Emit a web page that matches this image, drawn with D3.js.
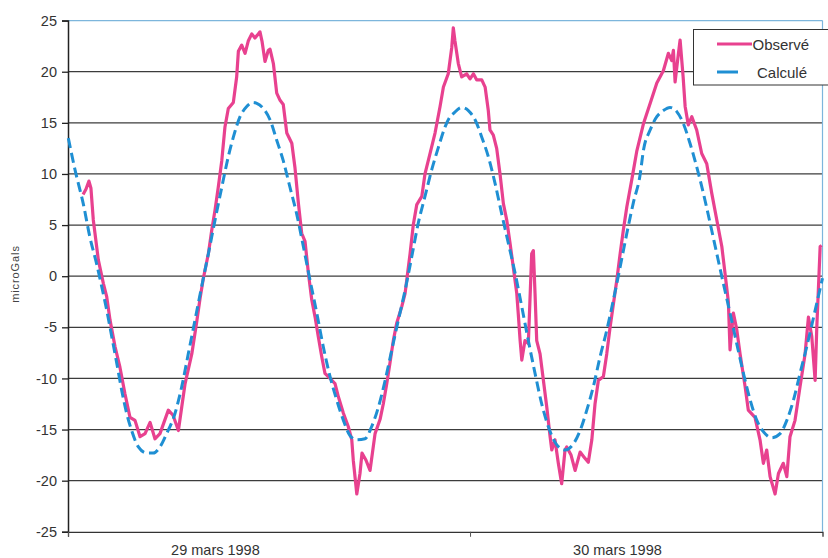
<!DOCTYPE html>
<html><head><meta charset="utf-8">
<script src="https://cdn.jsdelivr.net/npm/d3@7"></script>
<style>
body{margin:0;background:#fff}
svg{display:block}
text{font-family:"Liberation Sans",Arial,sans-serif}
</style>
</head><body><div id="chart"></div>
<script>
// ---- data (hours since 29 mars 1998 00:00, microGals) ----
const obsHours = [0.90,1.07,1.25,1.37,1.51,1.81,2.11,2.31,2.51,2.81,3.10,3.40,3.70,4.00,4.30,4.60,4.90,5.19,5.49,5.99,6.27,6.59,6.79,6.99,7.39,7.68,7.88,8.08,8.38,8.58,8.78,8.97,9.18,9.37,9.57,9.87,10.07,10.17,10.37,10.57,10.76,10.97,11.16,11.36,11.46,11.58,11.76,11.96,12.06,12.26,12.46,12.66,12.85,13.06,13.36,13.55,13.75,13.95,14.15,14.35,14.55,14.75,14.94,15.15,15.34,15.64,15.94,16.14,16.44,16.73,16.94,17.03,17.24,17.43,17.55,17.79,18.03,18.33,18.63,18.82,19.03,19.22,19.42,19.62,19.92,20.12,20.22,20.42,20.61,20.82,21.12,21.31,21.61,21.91,22.21,22.41,22.70,22.91,23.00,23.10,23.30,23.50,23.80,24.00,24.20,24.40,24.70,24.90,25.09,25.19,25.39,25.59,25.79,25.99,26.19,26.39,26.58,26.79,26.88,26.99,27.09,27.28,27.48,27.68,27.78,27.88,27.98,28.18,28.38,28.58,28.78,28.88,29.07,29.27,29.47,29.67,29.77,30.03,30.27,30.57,30.81,31.06,31.27,31.46,31.66,31.96,32.16,32.36,32.56,32.76,32.96,33.15,33.36,33.65,33.95,34.35,34.75,35.15,35.54,35.84,36.04,36.14,36.24,36.44,36.54,36.72,36.84,37.03,37.24,37.53,37.83,38.13,38.43,38.73,39.03,39.22,39.42,39.52,39.72,39.92,40.12,40.42,40.61,41.01,41.31,41.51,41.71,41.91,42.21,42.41,42.70,42.91,43.10,43.40,43.70,44.00,44.20,44.40,44.60,44.70,44.90,44.99];
const obsValues = [8.0,8.5,9.3,8.6,5.5,1.6,-0.7,-2.0,-4.3,-6.9,-8.9,-11.5,-13.8,-14.1,-15.7,-15.4,-14.3,-15.9,-15.4,-13.1,-13.6,-15.1,-12.8,-10.5,-7.6,-4.5,-2.2,-0.2,2.2,4.5,6.5,8.7,11.3,14.6,16.4,17.0,19.5,22.0,22.6,21.8,23.0,23.7,23.3,23.7,23.9,23.0,21.0,22.1,22.2,20.8,17.9,17.2,16.8,14.0,13.0,10.6,7.2,4.2,3.4,0.3,-2.3,-4.0,-5.9,-7.9,-9.5,-10.0,-10.5,-11.8,-13.4,-14.7,-16.0,-18.0,-21.3,-19.3,-17.3,-18.0,-19.0,-15.4,-14.0,-12.5,-10.5,-8.5,-6.3,-4.6,-3.0,-1.7,-0.4,2.2,5.0,7.0,7.8,10.0,12.0,14.0,16.6,18.5,19.8,22.4,24.3,23.0,20.8,19.5,19.8,19.3,19.8,19.2,19.2,18.5,16.2,14.3,13.8,12.5,10.0,7.1,5.5,3.2,0.9,-1.7,-3.7,-6.3,-8.2,-6.3,-6.6,2.2,2.5,-1.7,-6.3,-7.6,-10.2,-12.8,-15.7,-17.0,-16.0,-18.3,-20.3,-17.0,-16.7,-17.5,-19.0,-17.2,-17.7,-18.2,-16.0,-12.5,-10.2,-9.8,-7.6,-5.0,-2.7,-0.4,2.2,4.5,6.8,9.4,12.2,14.9,16.9,18.9,20.1,21.8,21.1,22.1,19.0,21.8,23.1,19.5,16.6,14.8,15.6,14.3,12.0,11.0,8.1,5.5,2.9,0.3,-2.5,-7.2,-3.6,-5.2,-7.6,-10.8,-13.1,-13.8,-16.0,-18.3,-17.0,-19.6,-21.3,-19.3,-18.3,-19.6,-15.7,-14.1,-10.8,-7.6,-4.0,-5.9,-10.2,-5.0,2.9,3.0];

const calcHours = [0.02,0.42,0.91,1.31,1.71,2.01,2.31,2.61,2.91,3.21,3.50,3.80,4.20,4.70,5.09,5.49,5.89,6.39,6.79,7.18,7.58,7.98,8.38,8.78,9.18,9.57,9.87,10.27,10.67,11.06,11.27,11.66,12.06,12.46,12.85,13.25,13.65,14.05,14.45,14.85,15.24,15.64,16.04,16.44,16.84,17.24,17.73,18.13,18.53,18.93,19.33,19.72,20.12,20.52,20.91,21.31,21.71,22.11,22.51,22.81,23.00,23.50,23.90,24.30,24.70,25.09,25.49,25.89,26.29,26.69,27.09,27.48,27.88,28.28,28.67,29.18,29.67,30.17,30.57,30.97,31.36,31.76,32.16,32.56,32.96,33.36,33.75,34.15,34.35,34.75,35.15,35.54,35.94,36.34,36.74,37.13,37.53,37.93,38.33,38.73,39.12,39.52,39.92,40.32,40.72,41.12,41.51,42.01,42.51,42.91,43.31,43.70,44.10,44.51,44.90,45.04];
const calcValues = [13.5,10.4,7.1,3.8,1.2,-1.0,-3.3,-5.9,-8.5,-11.2,-13.4,-15.1,-16.7,-17.3,-17.3,-16.7,-15.4,-13.4,-10.8,-7.6,-4.3,-1.0,2.2,5.5,8.7,11.7,13.6,15.6,16.6,17.0,16.9,16.4,15.3,13.3,11.3,8.7,6.1,2.9,-0.4,-3.6,-6.9,-9.8,-12.1,-14.1,-15.6,-16.0,-15.9,-14.7,-12.8,-10.2,-7.2,-4.3,-1.4,1.9,5.2,7.8,10.4,12.6,14.6,15.6,15.9,16.5,16.2,15.3,13.6,11.7,9.1,6.1,3.2,0.3,-3.0,-6.3,-9.5,-12.5,-14.7,-16.5,-17.0,-16.4,-15.1,-13.1,-10.8,-7.9,-5.3,-2.3,0.9,4.2,7.2,9.9,12.3,14.3,15.6,16.2,16.5,16.1,14.9,13.0,10.7,8.1,5.2,2.2,-0.7,-3.6,-6.6,-9.5,-12.1,-14.1,-15.2,-15.8,-15.4,-14.1,-12.1,-9.5,-6.9,-4.0,-1.2,-0.2];

const yTickValues = [-25,-20,-15,-10,-5,0,5,10,15,20,25];
const dayTickHours = [0,24,48];
const dayLabels = ["29 mars 1998","30 mars 1998"];
const seriesNames = ["Observé","Calculé"];
const yTitle = "microGals";

// ---- layout ----
const W = 828, H = 558;
const mLeft = 68, mRight = 822.5, mTop = 20.6, mBottom = 531.8;
const labelOffsetHours = 8.8;
const pink = "#e8418f", blue = "#1f8fd3";

const svg = d3.select("#chart").append("svg").attr("width", W).attr("height", H);
const x = d3.scaleLinear().domain([0, 45.04]).range([mLeft, mRight]);
const y = d3.scaleLinear().domain([-25, 25]).range([mBottom, mTop]);

// gridlines
svg.append("g").selectAll("line").data(yTickValues.filter(v => v > -25 && v < 25)).join("line")
  .attr("x1", mLeft).attr("x2", mRight).attr("y1", d => y(d)).attr("y2", d => y(d))
  .attr("stroke", "#3c3c3c").attr("stroke-width", 1.3);

// plot border (top/right light blue)
svg.append("line").attr("x1", mLeft).attr("x2", mRight).attr("y1", y(25)).attr("y2", y(25))
  .attr("stroke", "#7db6dc").attr("stroke-width", 1.2);
svg.append("line").attr("x1", mRight).attr("x2", mRight).attr("y1", y(25)).attr("y2", y(-25))
  .attr("stroke", "#7db6dc").attr("stroke-width", 1.2);

// Y axis
const yAxis = d3.axisLeft(y).tickValues(yTickValues).tickSize(6).tickPadding(5).tickFormat(d => String(d));
const gy = svg.append("g").attr("transform", `translate(${mLeft},0)`).call(yAxis);
gy.select(".domain").attr("stroke", "#222").attr("stroke-width", 1.5);
gy.selectAll(".tick line").attr("stroke", "#222").attr("stroke-width", 1.3);
gy.selectAll(".tick text").attr("font-size", 14.5).attr("fill", "#333")
  .attr("font-family", "Liberation Sans, Arial, sans-serif");

// X axis
const xAxis = d3.axisBottom(x).tickValues(dayTickHours.filter(h => h <= 45.04)).tickSize(5).tickFormat("");
const gx = svg.append("g").attr("transform", `translate(0,${mBottom})`).call(xAxis);
gx.select(".domain").attr("stroke", "#333").attr("stroke-width", 1.3);
gx.selectAll(".tick line").attr("stroke", "#555").attr("stroke-width", 1);
svg.append("g").selectAll("text").data(dayLabels).join("text")
  .attr("x", (d, i) => x(dayTickHours[i] + labelOffsetHours))
  .attr("y", 555)
  .attr("text-anchor", "middle").attr("font-size", 14.5).attr("fill", "#333").text(d => d);

// Y title
svg.append("text").attr("transform", `translate(19,274) rotate(-90)`)
  .attr("text-anchor", "middle").attr("font-size", 11).attr("letter-spacing", 0.9)
  .attr("fill", "#444").text(yTitle);

// lines
const obs = obsHours.map((h, i) => [h, obsValues[i]]);
const calc = calcHours.map((h, i) => [h, calcValues[i]]);
svg.append("path").datum(obs).attr("d", d3.line().x(d => x(d[0])).y(d => y(d[1])))
  .attr("fill", "none").attr("stroke", pink).attr("stroke-width", 3.2).attr("stroke-linejoin", "round");
svg.append("path").datum(calc).attr("d", d3.line().x(d => x(d[0])).y(d => y(d[1])).curve(d3.curveMonotoneX))
  .attr("fill", "none").attr("stroke", blue).attr("stroke-width", 3).attr("stroke-dasharray", "10,5");

// legend
const lg = svg.append("g");
lg.append("rect").attr("x", 693.5).attr("y", 29.5).attr("width", 140).attr("height", 55.5)
  .attr("fill", "#fff").attr("stroke", "#333").attr("stroke-width", 1);
const items = lg.selectAll("g.it").data(seriesNames).join("g").attr("class", "it")
  .attr("transform", (d, i) => `translate(0,${44 + i * 28})`);
items.append("line").attr("x1", 717).attr("x2", (d, i) => i === 0 ? 752 : 738)
  .attr("stroke", (d, i) => i === 0 ? pink : blue).attr("stroke-width", 3);
items.append("text").attr("x", (d, i) => i === 0 ? 752.5 : 757).attr("y", 5.5)
  .attr("font-size", 15).attr("fill", "#333").text(d => d);
</script>
</body></html>
